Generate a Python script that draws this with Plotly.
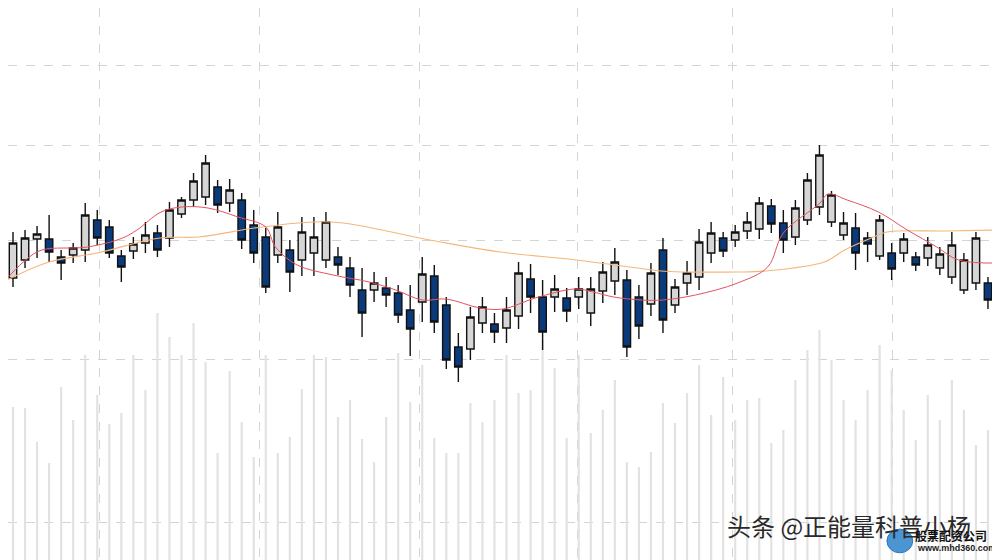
import plotly.graph_objects as go

# ---- candle data (price units), one entry per session ----
opens = [22.2, 24.0, 26.1, 26.1, 24.3, 24.5, 25.0, 28.0, 27.3, 24.4,
         24.9, 25.7, 26.7, 26.2, 28.6, 30.0, 30.3, 31.3, 29.7, 30.0,
         27.5, 26.3, 24.5, 25.0, 24.0, 24.7, 24.0, 24.3, 23.2, 21.0,
         21.0, 21.2, 20.7, 19.0, 19.8, 22.4, 19.5, 15.3, 15.1, 17.7,
         17.6, 17.2, 18.4, 22.1, 20.3, 20.3, 20.2, 20.3, 18.7, 20.9,
         21.9, 22.0, 20.3, 19.6, 25.0, 19.5, 21.7, 22.3, 24.7, 26.2,
         26.0, 26.9, 27.1, 29.4, 27.7, 26.3, 28.0, 29.3, 27.8, 26.5,
         27.2, 26.2, 24.4, 24.7, 24.7, 24.3, 24.2, 23.2, 22.3, 21.0,
         21.7, 21.7]
highs = [26.8, 27.0, 27.4, 28.5, 25.0, 25.7, 29.7, 29.0, 28.0, 25.0,
         26.3, 27.8, 27.5, 29.8, 30.3, 32.7, 34.5, 32.0, 32.1, 30.7,
         29.0, 27.2, 28.8, 26.0, 28.3, 28.3, 28.8, 25.3, 24.3, 23.2,
         22.8, 22.3, 21.5, 21.5, 24.3, 23.5, 20.3, 16.7, 19.3, 20.3,
         18.7, 20.3, 23.8, 23.6, 22.0, 22.5, 21.2, 22.3, 22.3, 23.8,
         25.2, 23.0, 21.5, 23.7, 26.2, 22.1, 23.9, 27.1, 27.8, 26.8,
         27.5, 28.8, 30.3, 30.1, 29.0, 30.0, 32.7, 35.5, 30.9, 28.8,
         28.7, 26.8, 28.5, 25.7, 26.7, 24.8, 26.3, 25.3, 26.8, 24.7,
         26.8, 22.3]
lows = [21.3, 23.2, 24.2, 23.8, 22.0, 23.7, 23.8, 25.5, 24.2, 21.8,
        24.1, 24.7, 24.3, 25.3, 28.2, 29.3, 29.5, 28.7, 28.8, 25.1,
        23.7, 20.7, 23.7, 20.8, 22.4, 22.4, 23.2, 22.5, 20.3, 16.3,
        19.8, 19.3, 17.7, 14.4, 17.8, 16.7, 13.1, 11.8, 14.0, 16.7,
        15.7, 15.7, 17.1, 18.7, 15.0, 18.8, 17.8, 19.1, 17.4, 19.7,
        20.5, 14.3, 16.1, 18.4, 16.7, 18.7, 20.5, 21.0, 23.7, 24.3,
        25.3, 26.1, 26.1, 26.7, 24.7, 25.5, 27.5, 28.5, 27.3, 26.0,
        23.0, 23.8, 24.0, 22.0, 23.8, 22.9, 23.4, 22.5, 21.6, 20.6,
        21.0, 19.1]
closes = [25.7, 26.2, 26.6, 24.8, 23.7, 25.2, 28.5, 26.2, 24.7, 23.3,
          25.6, 26.5, 25.0, 29.0, 30.0, 31.9, 33.7, 29.5, 31.0, 26.0,
          24.7, 21.3, 27.3, 22.8, 26.8, 26.3, 27.8, 23.5, 21.5, 18.7,
          21.7, 20.5, 18.5, 17.1, 22.6, 17.8, 14.0, 13.3, 18.3, 19.3,
          16.8, 19.0, 22.7, 20.3, 16.8, 21.1, 18.9, 21.1, 21.1, 22.8,
          23.8, 15.3, 17.4, 22.7, 18.0, 21.3, 22.7, 25.8, 26.7, 24.9,
          26.8, 27.8, 29.7, 27.6, 26.0, 29.2, 32.0, 34.5, 30.5, 27.7,
          24.7, 25.6, 28.0, 23.1, 26.1, 23.5, 25.5, 24.6, 25.5, 24.0,
          26.2, 20.0]
volumes = [153, 152, 118, 97, 173, 140, 205, 165, 136, 147,
           205, 170, 247, 223, 205, 237, 198, 107, 189, 138,
           103, 205, 107, 123, 171, 205, 203, 143, 160, 121,
           98, 143, 207, 158, 195, 122, 107, 107, 157, 138,
           160, 205, 167, 170, 220, 192, 122, 205, 127, 150,
           180, 98, 93, 108, 157, 137, 167, 195, 145, 183,
           140, 160, 162, 117, 130, 180, 210, 230, 200, 160,
           140, 170, 215, 190, 150, 120, 165, 140, 180, 150,
           115, 130]
sessions = list(range(len(opens)))

# ---- moving-average lines ----
ma_fast_x = [-1, 1.05, 2.4, 6.2, 9.1, 10.3, 12.3, 14.0, 16.2, 18.7, 21.0, 21.8,
             23.6, 26.6, 29.6, 31.8, 34.0, 36.0, 38.8, 40.7, 43.4, 46.7, 48.2,
             49.9, 52.2, 54.0, 56.7, 60.2, 62.7, 64.0, 67.05, 67.7, 69.3, 71.9,
             74.3, 76.75, 78.55, 82.0]
ma_fast_y = [21.5, 24.0, 25.0, 25.3, 26.2, 27.0, 28.8, 29.3, 29.2, 28.3, 27.3, 25.3,
             23.5, 22.5, 21.8, 21.0, 20.0, 20.1, 19.2, 19.1, 20.2, 21.1, 20.8,
             20.3, 20.0, 20.0, 20.5, 21.7, 23.3, 26.7, 29.7, 30.6, 30.0, 28.8,
             27.0, 25.3, 24.0, 23.7]
ma_slow_x = [-1, 3, 7, 12.2, 15.4, 20.7, 26.5, 34.6, 40.5, 46.8, 51.9, 53.8,
             60.2, 62.5, 67.4, 69.1, 71.5, 72.6, 77.4, 82]
ma_slow_y = [21.7, 23.8, 24.7, 26.2, 26.3, 27.3, 27.8, 26.0, 24.8, 24.0, 23.2, 22.9,
             22.8, 22.9, 23.8, 25.0, 26.3, 26.8, 26.9, 27.0]

# grid positions
grid_prices = [43.5, 35.5, 26.0, 14.1, -2.2]
grid_sessions = [7.2, 20.5, 33.8, 46.9, 59.8, 73.1]

fig = go.Figure()

fig.add_trace(go.Bar(
    x=sessions, y=volumes, yaxis="y", width=0.18,
    marker=dict(color="#e2e2e2", line=dict(width=0)),
    showlegend=False, hoverinfo="skip",
))

fig.add_trace(go.Candlestick(
    x=sessions, open=opens, high=highs, low=lows, close=closes, yaxis="y2",
    increasing=dict(fillcolor="#d6d6d6", line=dict(color="#111111", width=1.4)),
    decreasing=dict(fillcolor="#0b3a7a", line=dict(color="#111111", width=1.4)),
    whiskerwidth=0, showlegend=False,
))

fig.add_trace(go.Scatter(
    x=ma_slow_x, y=ma_slow_y, yaxis="y2", mode="lines",
    line=dict(color="#f6b67a", width=1.1, shape="spline"), showlegend=False,
))
fig.add_trace(go.Scatter(
    x=ma_fast_x, y=ma_fast_y, yaxis="y2", mode="lines",
    line=dict(color="#e4535c", width=1.0, shape="spline"), showlegend=False,
))

fig.update_layout(
    width=992, height=552,
    margin=dict(l=0, r=0, t=0, b=0),
    paper_bgcolor="white", plot_bgcolor="white",
    boxgap=0.12,
    xaxis=dict(range=[-0.415, 82.0], tickvals=grid_sessions, showticklabels=False,
               showgrid=True, gridcolor="#d4d4d4", griddash="dash", gridwidth=1,
               zeroline=False, showline=False, rangeslider=dict(visible=False)),
    yaxis=dict(range=[0, 552], showgrid=False, showticklabels=False, zeroline=False),
    yaxis2=dict(range=[-6.0, 49.2], overlaying="y", tickvals=grid_prices,
                showticklabels=False, showgrid=True, gridcolor="#d4d4d4",
                griddash="dash", gridwidth=1, zeroline=False),
    font=dict(family="Noto Sans CJK SC"),
)

fig.add_annotation(
    text="头条 @正能量科普小杨", xref="paper", yref="paper",
    x=0.723, y=0.027, xanchor="left", yanchor="bottom", showarrow=False,
    font=dict(size=24, color="#2a2a2a", family="Noto Sans CJK SC"),
)
fig.add_shape(type="circle", xref="paper", yref="paper",
              x0=0.886, x1=0.912, y0=0.013, y1=0.056,
              fillcolor="#4a95d2", line=dict(color="#2f76b8", width=1))
fig.add_annotation(
    text="<b>股票配资公司</b>", xref="paper", yref="paper",
    x=0.912, y=0.045, xanchor="left", yanchor="middle", showarrow=False,
    font=dict(size=12, color="#111111", family="Noto Sans CJK SC"),
)
fig.add_annotation(
    text="<b>www.mhd360.com</b>", xref="paper", yref="paper",
    x=0.914, y=0.022, xanchor="left", yanchor="middle", showarrow=False,
    font=dict(size=9, color="#222222", family="Liberation Sans"),
)

fig.write_html("out.html")
